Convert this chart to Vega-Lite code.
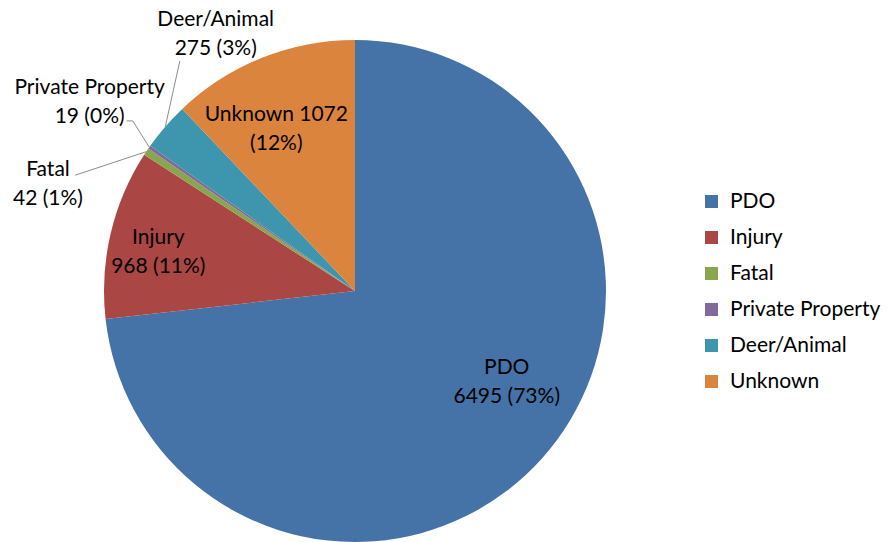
{
  "$schema": "https://vega.github.io/schema/vega-lite/v6.json",
  "width": 710,
  "height": 582,
  "autosize": {"type": "none"},
  "padding": {"left": 0, "top": 0, "right": 178, "bottom": 0},
  "background": "white",
  "config": {"view": {"stroke": null}, "font": "Lato"},
  "data": {
    "values": [
      {"cat": "PDO", "n": 6495, "k": 1, "label": "PDO\n6495 (73%)"},
      {"cat": "Injury", "n": 968, "k": 2, "label": "Injury\n968 (11%)"},
      {"cat": "Fatal", "n": 42, "k": 3, "label": "Fatal\n42 (1%)"},
      {"cat": "Private Property", "n": 19, "k": 4, "label": "Private Property\n19 (0%)"},
      {"cat": "Deer/Animal", "n": 275, "k": 5, "label": "Deer/Animal\n275 (3%)"},
      {"cat": "Unknown", "n": 1072, "k": 6, "label": "Unknown 1072\n(12%)"}
    ]
  },
  "transform": [
    {"joinaggregate": [{"op": "sum", "field": "n", "as": "total"}]},
    {"window": [{"op": "sum", "field": "n", "as": "cum"}], "sort": [{"field": "k"}], "frame": [null, 0]},
    {"calculate": "(datum.cum - datum.n/2)/datum.total", "as": "mid"},
    {"calculate": "355 + 251*sin(2*PI*datum.mid)", "as": "ex"},
    {"calculate": "291 - 251*cos(2*PI*datum.mid)", "as": "ey"},
    {"calculate": "datum.ex + (datum.cat=='Fatal' ? -71 : datum.cat=='Deer/Animal' ? 14.5 : -16.5)", "as": "lx"},
    {"calculate": "datum.ey + (datum.cat=='Fatal' ? 23.5 : datum.cat=='Deer/Animal' ? -65.5 : -26.3)", "as": "ly"},
    {"calculate": "datum.lx - 6", "as": "lx2"}
  ],
  "layer": [
    {
      "mark": {"type": "arc", "outerRadius": 251},
      "encoding": {
        "theta": {"field": "n", "type": "quantitative", "stack": true},
        "order": {"field": "k", "type": "quantitative"},
        "color": {
          "field": "cat",
          "type": "nominal",
          "scale": {
            "domain": ["PDO", "Injury", "Fatal", "Private Property", "Deer/Animal", "Unknown"],
            "range": ["#4572A7", "#AA4643", "#89A54E", "#80699B", "#3D96AE", "#DB843D"]
          },
          "legend": {
            "orient": "none",
            "legendX": 701,
            "legendY": 191,
            "title": null,
            "padding": 0,
            "symbolType": "square",
            "symbolSize": 169,
            "symbolStrokeWidth": 0,
            "labelFont": "Lato",
            "labelFontSize": 21,
            "labelColor": "#000000",
            "labelOffset": 8,
            "rowPadding": 14,
            "labelLimit": 300
          }
        }
      }
    },
    {
      "transform": [{"filter": "datum.cat=='Fatal' || datum.cat=='Deer/Animal' || datum.cat=='Private Property'"}],
      "mark": {"type": "rule", "color": "#8c8c8c", "strokeWidth": 1},
      "encoding": {
        "x": {"field": "ex", "type": "quantitative", "scale": null},
        "y": {"field": "ey", "type": "quantitative", "scale": null},
        "x2": {"field": "lx"},
        "y2": {"field": "ly"}
      }
    },
    {
      "transform": [{"filter": "datum.cat=='Private Property'"}],
      "mark": {"type": "rule", "color": "#8c8c8c", "strokeWidth": 1},
      "encoding": {
        "x": {"field": "lx", "type": "quantitative", "scale": null},
        "y": {"field": "ly", "type": "quantitative", "scale": null},
        "x2": {"field": "lx2"},
        "y2": {"field": "ly"}
      }
    },
    {
      "transform": [{"filter": "datum.cat=='PDO'"}],
      "mark": {"type": "text", "radius": 174, "dx": 22, "dy": -39, "fontSize": 21, "lineHeight": 29, "lineBreak": "\n", "color": "#000000", "align": "center", "baseline": "middle"},
      "encoding": {"theta": {"field": "mid", "type": "quantitative", "stack": null, "scale": {"domain": [0, 1], "range": [0, 6.283185307]}}, "text": {"field": "label"}}
    },
    {
      "transform": [{"filter": "datum.cat=='Injury'"}],
      "mark": {"type": "text", "radius": 200, "dx": -2, "dy": -7, "fontSize": 21, "lineHeight": 29, "lineBreak": "\n", "color": "#000000", "align": "center", "baseline": "middle"},
      "encoding": {"theta": {"field": "mid", "type": "quantitative", "stack": null, "scale": {"domain": [0, 1], "range": [0, 6.283185307]}}, "text": {"field": "label"}}
    },
    {
      "transform": [{"filter": "datum.cat=='Unknown'"}],
      "mark": {"type": "text", "radius": 180, "dx": -12, "dy": -9, "fontSize": 21, "lineHeight": 29, "lineBreak": "\n", "color": "#000000", "align": "center", "baseline": "middle"},
      "encoding": {"theta": {"field": "mid", "type": "quantitative", "stack": null, "scale": {"domain": [0, 1], "range": [0, 6.283185307]}}, "text": {"field": "label"}}
    },
    {
      "transform": [{"filter": "datum.cat=='Deer/Animal'"}],
      "mark": {"type": "text", "radius": 273, "dx": 67, "dy": -92, "fontSize": 21, "lineHeight": 29, "lineBreak": "\n", "color": "#000000", "align": "center", "baseline": "middle"},
      "encoding": {"theta": {"field": "mid", "type": "quantitative", "stack": null, "scale": {"domain": [0, 1], "range": [0, 6.283185307]}}, "text": {"field": "label"}}
    },
    {
      "transform": [{"filter": "datum.cat=='Private Property'"}],
      "mark": {"type": "text", "radius": 325, "dx": 1, "dy": -17, "fontSize": 21, "lineHeight": 29, "lineBreak": "\n", "color": "#000000", "align": "center", "baseline": "middle"},
      "encoding": {"theta": {"field": "mid", "type": "quantitative", "stack": null, "scale": {"domain": [0, 1], "range": [0, 6.283185307]}}, "text": {"field": "label"}}
    },
    {
      "transform": [{"filter": "datum.cat=='Fatal'"}],
      "mark": {"type": "text", "radius": 315, "dx": -45, "dy": 54, "fontSize": 21, "lineHeight": 29, "lineBreak": "\n", "color": "#000000", "align": "center", "baseline": "middle"},
      "encoding": {"theta": {"field": "mid", "type": "quantitative", "stack": null, "scale": {"domain": [0, 1], "range": [0, 6.283185307]}}, "text": {"field": "label"}}
    }
  ],
  "resolve": {"scale": {"theta": "independent"}}
}
